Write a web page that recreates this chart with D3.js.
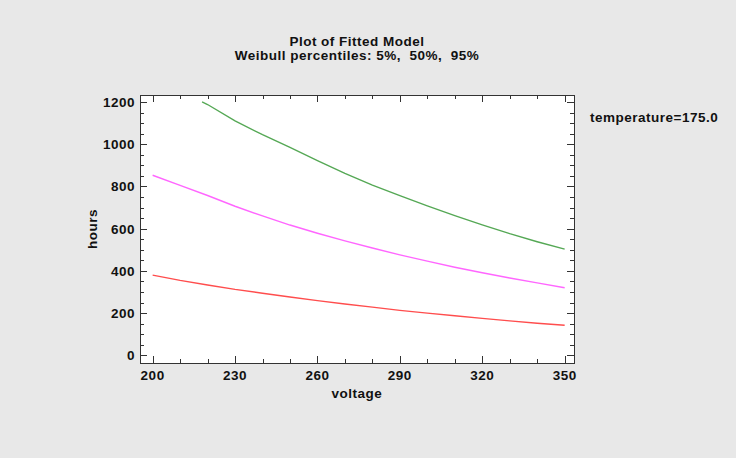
<!DOCTYPE html>
<html>
<head>
<meta charset="utf-8">
<script src="https://cdn.jsdelivr.net/npm/d3@7"></script>
<style>
  html, body { margin: 0; padding: 0; background: #e8e8e8; }
  svg { display: block; }
</style>
</head>
<body>
<div id="chart"></div>
<script>
// Weibull percentile curves vs voltage, temperature fixed at 175.0

const voltage  = [200, 210, 220, 230, 240, 250, 260, 270, 280, 290, 300, 310, 320, 330, 340, 350];
const p05      = [380, 355, 333, 312, 294, 276, 259, 243, 228, 213, 200, 187, 175, 163, 152, 142];
const p50      = [853, 805, 757, 706, 660, 617, 578, 542, 508, 476, 446, 417, 391, 366, 343, 320];
const p95V     = [218, 220, 230, 240, 250, 260, 270, 280, 290, 300, 310, 320, 330, 340, 350];
const p95      = [1200, 1188, 1110, 1045, 985, 922, 862, 806, 756, 708, 662, 618, 576, 538, 503];

const xTicks   = [200, 230, 260, 290, 320, 350];
const yTicks   = [0, 200, 400, 600, 800, 1000, 1200];

const W = 736, H = 458;
const m = { left: 140, right: 574, top: 95, bottom: 363 };
const FONT = "Arial, 'Liberation Sans', sans-serif";

const svg = d3.select("#chart").append("svg")
  .attr("width", W).attr("height", H);

svg.append("rect").attr("width", W).attr("height", H).attr("fill", "#e8e8e8");

const x = d3.scaleLinear().domain([195.4, 353.4]).range([m.left, m.right]);
const y = d3.scaleLinear().domain([-36.5, 1233]).range([m.bottom, m.top]);

// Plot area
svg.append("rect")
  .attr("x", m.left).attr("y", m.top)
  .attr("width", m.right - m.left).attr("height", m.bottom - m.top)
  .attr("fill", "#fff");

// Curves
const series = [
  { xs: voltage, ys: p05, color: "#ff4d4d" },
  { xs: voltage, ys: p50, color: "#ff66ff" },
  { xs: p95V,    ys: p95, color: "#55a855" },
];
const line = d3.line().x(d => x(d[0])).y(d => y(d[1]));
series.forEach(s => {
  svg.append("path")
    .datum(s.xs.map((v, i) => [v, s.ys[i]]))
    .attr("d", line)
    .attr("fill", "none")
    .attr("stroke", s.color)
    .attr("stroke-width", 1.4);
});

// Inside ticks on all four sides
const axisColor = "#333";
const tickG = svg.append("g").attr("stroke", axisColor).attr("stroke-width", 1);
d3.range(200, 351, 10).forEach(v => {
  const len = v % 30 === 20 ? 7 : 4;
  const px = Math.round(x(v)) + 0.5;
  tickG.append("line").attr("x1", px).attr("x2", px).attr("y1", m.bottom).attr("y2", m.bottom - len);
  tickG.append("line").attr("x1", px).attr("x2", px).attr("y1", m.top).attr("y2", m.top + len);
});
d3.range(0, 1201, 50).forEach(v => {
  const len = v % 200 === 0 ? 7 : 4;
  const py = Math.round(y(v)) + 0.5;
  tickG.append("line").attr("x1", m.left).attr("x2", m.left + len).attr("y1", py).attr("y2", py);
  tickG.append("line").attr("x1", m.right).attr("x2", m.right - len).attr("y1", py).attr("y2", py);
});

// Frame
svg.append("rect")
  .attr("x", m.left + 0.5).attr("y", m.top + 0.5)
  .attr("width", m.right - m.left).attr("height", m.bottom - m.top)
  .attr("fill", "none").attr("stroke", axisColor).attr("stroke-width", 1);

// Tick labels
const lab = svg.append("g")
  .attr("font-family", FONT).attr("font-size", "13.5px")
  .attr("font-weight", "bold").attr("fill", "#111")
  .attr("letter-spacing", "0.5px");
xTicks.forEach(v => {
  lab.append("text").attr("x", x(v)).attr("y", 380)
    .attr("text-anchor", "middle").text(v);
});
yTicks.forEach(v => {
  lab.append("text").attr("x", 135).attr("y", y(v) + 5)
    .attr("text-anchor", "end").text(v);
});

// Axis titles
lab.append("text").attr("x", (m.left + m.right) / 2).attr("y", 398)
  .attr("text-anchor", "middle").text("voltage");
lab.append("text")
  .attr("transform", `translate(97,${(m.top + m.bottom) / 2}) rotate(-90)`)
  .attr("text-anchor", "middle").text("hours");

// Titles
lab.append("text").attr("x", (m.left + m.right) / 2).attr("y", 46)
  .attr("text-anchor", "middle").text("Plot of Fitted Model");
lab.append("text").attr("x", (m.left + m.right) / 2).attr("y", 60)
  .attr("text-anchor", "middle").text("Weibull percentiles: 5%,\u00a0 50%,\u00a0 95%");

// Side annotation
lab.append("text").attr("x", 590).attr("y", 122).text("temperature=175.0");
</script>
</body>
</html>
